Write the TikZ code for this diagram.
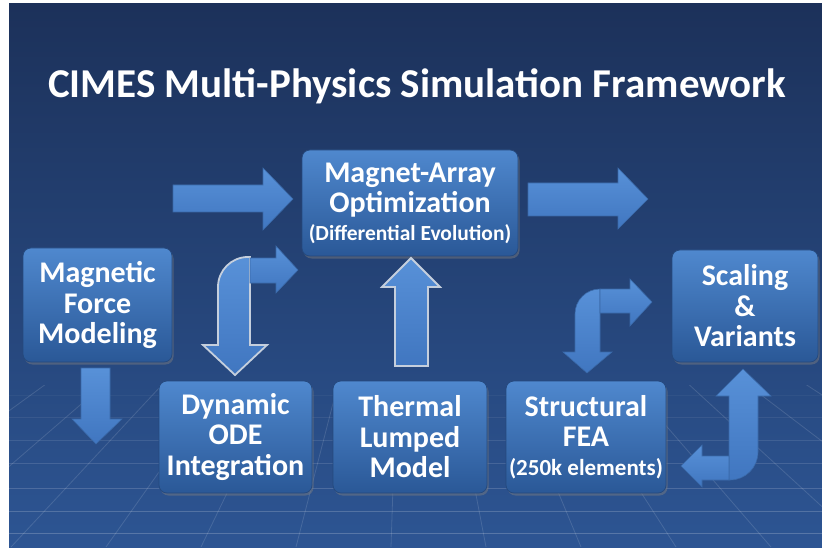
\documentclass[tikz,border=0pt]{standalone}
\usepackage{fontspec}
\setmainfont{Carlito}
\usetikzlibrary{shadows}
\definecolor{bgtop}{HTML}{1C315A}
\definecolor{bgbot}{HTML}{2D5593}
\definecolor{boxtop}{HTML}{4F88CE}
\definecolor{boxbot}{HTML}{2A5897}
\definecolor{boxbord}{HTML}{25497D}
\definecolor{arrtop}{HTML}{5891D8}
\definecolor{arrbot}{HTML}{4076C0}
\definecolor{arrbord}{HTML}{3A69A8}
\definecolor{glow}{HTML}{C5CFDD}
\begin{document}
\begin{tikzpicture}[x=1pt,y=-1pt,
  box/.style={rounded corners=8pt, draw=boxbord, line width=0.7pt,
    top color=boxtop, bottom color=boxbot, text=white,
    font=\bfseries\fontsize{30}{30.5}\selectfont, align=center, inner sep=0pt,
    drop shadow={opacity=0.45, shadow xshift=1.5pt, shadow yshift=-2.5pt}},
  blockarrow/.style={top color=arrtop, bottom color=arrbot, draw=arrbord, line width=0.6pt},
  glowarrow/.style={top color=arrtop, bottom color=arrbot, draw=glow, line width=1.8pt, line join=miter},
  gridline/.style={white, line width=0.8pt}
]
\useasboundingbox (0,0) rectangle (822,556);
\fill[white] (0,0) rectangle (822,556);
% background
\shade[top color=bgtop, bottom color=bgbot] (9,4) rectangle (822,547);
% perspective floor grid
\begin{scope}
  \clip (9,385) rectangle (822,547);
  \foreach \yy/\op in {395/0.04,417/0.07,440/0.1,463/0.13,488/0.16,511/0.18,533/0.2}
    \draw[gridline, opacity=\op] (9,\yy) -- (822,\yy);
  \foreach \xb in {-179,-84,11,106,201,296,391,486,581,676,771,866,961,1056}
    \draw[gridline, opacity=0.13] (405,124) -- (\xb,547);
\end{scope}
% title
\node[text=white, font=\bfseries\fontsize{41}{44}\selectfont] (title) at (417,86)
  {CIMES Multi-Physics Simulation Framework};
% boxes
\node[box, minimum width=216pt, minimum height=106pt] (opt) at (410,203)
  {Magnet-Array\\Optimization\\[-3pt]{\fontsize{21.5}{24}\selectfont (Differential Evolution)}};
\node[box, minimum width=149pt, minimum height=114pt] (mag) at (97.5,305)
  {Magnetic\\Force\\Modeling};
\node[box, minimum width=146pt, minimum height=112pt] (scal) at (745,306)
  {Scaling\\\&\\Variants};
\node[box, minimum width=153pt, minimum height=112pt] (ode) at (235.5,437)
  {Dynamic\\ODE\\Integration};
\node[box, minimum width=154pt, minimum height=112pt] (therm) at (410,437)
  {Thermal\\Lumped\\Model};
\node[box, minimum width=160pt, minimum height=112pt] (fea) at (586,437)
  {Structural\\FEA\\[-2pt]{\fontsize{23}{25}\selectfont (250k elements)}};
% straight block arrows
\draw[blockarrow] (173,185) -- (263,185) -- (263,168) -- (293,199) -- (263,230) -- (263,212) -- (173,212) -- cycle;
\draw[blockarrow] (528,183) -- (618,183) -- (618,168) -- (648,199) -- (618,229) -- (618,216) -- (528,216) -- cycle;
\draw[blockarrow] (81,368) -- (110,368) -- (110,419) -- (122,419) -- (96,444) -- (72,419) -- (81,419) -- cycle;
% up arrow Thermal -> Optimization
\draw[glowarrow] (395,366) -- (395,287) -- (382,287) -- (411,258) -- (440,287) -- (428,287) -- (428,366) -- cycle;
% bent arrow between Optimization and Dynamic ODE
\draw[glowarrow] (218,345) -- (218,287) .. controls (218,270.4) and (231.4,257) .. (248,257)
  -- (250,257) -- (250,345) -- (267,345) -- (235,375) -- (203,345) -- cycle;
\draw[blockarrow] (250,258) -- (276,258) -- (276,246) -- (298,270) -- (276,293) -- (276,283) -- (250,283) -- cycle;
% bent arrow near Structural FEA
\draw[blockarrow] (575,352) -- (575,314) .. controls (575,300.2) and (586.2,289) .. (600,289)
  -- (600,352) -- (612,352) -- (587,373) -- (563,352) -- cycle;
\draw[blockarrow] (600,289) -- (630,289) -- (630,279) -- (652,302) -- (630,326) -- (630,313) -- (600,313) -- cycle;
% bent arrow between Structural FEA and Scaling
\draw[blockarrow] (729,396) -- (716,396) -- (743,369) -- (771,396) -- (758,396) -- (758,452)
  .. controls (758,467.5) and (745.5,480) .. (730,480) -- (729,480) -- cycle;
\draw[blockarrow] (729,456) -- (702,456) -- (702,445) -- (681,466) -- (702,487) -- (702,480) -- (729,480) -- cycle;
\end{tikzpicture}
\end{document}
